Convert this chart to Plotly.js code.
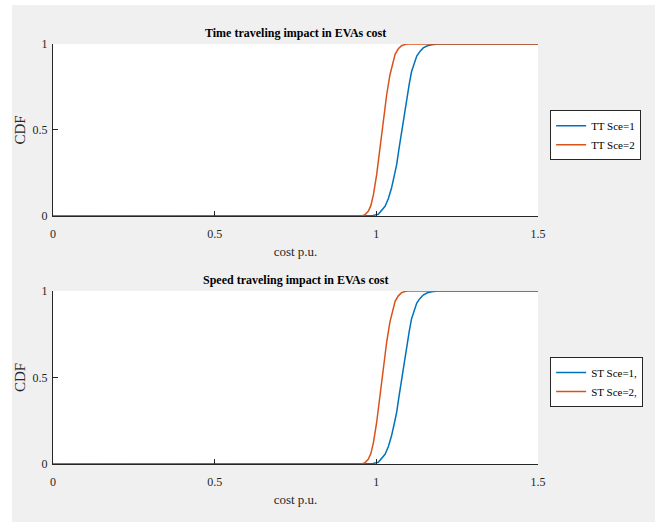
<!DOCTYPE html>
<html>
<head>
<meta charset="utf-8">
<script src="https://cdn.plot.ly/plotly-3.0.1.min.js"></script>
<style>
html,body{margin:0;padding:0;background:#f0f0f0;overflow:hidden;}
#chart{position:absolute;left:12px;top:5px;width:643px;height:517px;}
#padL{position:absolute;left:0;top:0;width:12px;height:100%;background:#ffffff;z-index:5;}
#padT{position:absolute;left:0;top:0;width:100%;height:5px;background:#ffffff;z-index:5;}
</style>
</head>
<body>
<div id="padL"></div><div id="padT"></div>
<div id="chart"></div>
<script>
// Top panel: time traveling impact
var ttSce1X = [0, 0.975, 0.99, 1.006, 1.016, 1.027, 1.037, 1.047, 1.055, 1.063, 1.07, 1.078, 1.086, 1.094, 1.102, 1.109, 1.117, 1.125, 1.135, 1.145, 1.158, 1.171, 1.191, 1.5];
var ttSce1Y = [0, 0, 0.003, 0.01, 0.03, 0.056, 0.1, 0.163, 0.23, 0.30, 0.39, 0.49, 0.59, 0.686, 0.77, 0.84, 0.89, 0.93, 0.957, 0.977, 0.99, 0.996, 1, 1];
var ttSce2X = [0, 0.955, 0.965, 0.975, 0.983, 0.991, 1.001, 1.011, 1.022, 1.032, 1.042, 1.05, 1.058, 1.068, 1.078, 1.09, 1.099, 1.5];
var ttSce2Y = [0, 0, 0.008, 0.027, 0.06, 0.124, 0.24, 0.395, 0.55, 0.705, 0.82, 0.89, 0.94, 0.972, 0.99, 0.998, 1, 1];

// Bottom panel: speed traveling impact
var stSce1X = [0, 0.975, 0.99, 1.006, 1.016, 1.027, 1.037, 1.047, 1.055, 1.063, 1.07, 1.078, 1.086, 1.094, 1.102, 1.109, 1.117, 1.125, 1.135, 1.145, 1.158, 1.171, 1.191, 1.5];
var stSce1Y = [0, 0, 0.003, 0.01, 0.03, 0.056, 0.1, 0.163, 0.23, 0.30, 0.39, 0.49, 0.59, 0.686, 0.77, 0.84, 0.89, 0.93, 0.957, 0.977, 0.99, 0.996, 1, 1];
var stSce2X = [0, 0.955, 0.965, 0.975, 0.983, 0.991, 1.001, 1.011, 1.022, 1.032, 1.042, 1.05, 1.058, 1.068, 1.078, 1.09, 1.099, 1.5];
var stSce2Y = [0, 0, 0.008, 0.027, 0.06, 0.124, 0.24, 0.395, 0.55, 0.705, 0.82, 0.89, 0.94, 0.972, 0.99, 0.998, 1, 1];

var xTicks = [0, 0.5, 1, 1.5];
var xTickLabels = ['0', '0.5', '1', '1.5'];
var yTicks = [0, 0.5, 1];
var yTickLabels = ['0', '0.5', '1'];

var titleTop = 'Time traveling impact in EVAs cost';
var titleBottom = 'Speed traveling impact in EVAs cost';
var xLabel = 'cost p.u.';
var yLabel = 'CDF';

var BLUE = '#0072BD', ORANGE = '#D95319';
var serif = 'Liberation Serif, Times New Roman, serif';

var traces = [
  {x: ttSce1X, y: ttSce1Y, name: 'TT Sce=1', mode: 'lines', line: {color: BLUE, width: 1.5}, xaxis: 'x', yaxis: 'y', legend: 'legend'},
  {x: ttSce2X, y: ttSce2Y, name: 'TT Sce=2', mode: 'lines', line: {color: ORANGE, width: 1.5}, xaxis: 'x', yaxis: 'y', legend: 'legend'},
  {x: stSce1X, y: stSce1Y, name: 'ST Sce=1,', mode: 'lines', line: {color: BLUE, width: 1.5}, xaxis: 'x2', yaxis: 'y2', legend: 'legend2'},
  {x: stSce2X, y: stSce2Y, name: 'ST Sce=2,', mode: 'lines', line: {color: ORANGE, width: 1.5}, xaxis: 'x2', yaxis: 'y2', legend: 'legend2'}
];

function xax(anchor){
  return {
    anchor: anchor, domain: [0, 1], range: [0, 1.5],
    tickvals: xTicks, ticktext: xTickLabels,
    ticks: 'inside', ticklen: 5, tickcolor: '#262626', tickwidth: 1,
    ticklabelstandoff: 7,
    showline: true, linecolor: '#262626', linewidth: 1, mirror: false,
    showgrid: false, zeroline: false,
    tickfont: {family: serif, size: 12, color: '#262626'},
    title: {text: xLabel, font: {family: serif, size: 13, color: '#262626'}, standoff: 6}
  };
}
function yax(anchor, dom){
  return {
    anchor: anchor, domain: dom, range: [0, 1],
    tickvals: yTicks, ticktext: yTickLabels,
    ticks: 'inside', ticklen: 5, tickcolor: '#262626', tickwidth: 1,
    ticklabelstandoff: 2,
    showline: true, linecolor: '#262626', linewidth: 1, mirror: false,
    showgrid: false, zeroline: false,
    tickfont: {family: serif, size: 12, color: '#262626'},
    title: {text: yLabel, font: {family: serif, size: 15, color: '#262626'}, standoff: 6}
  };
}

var legendStyle = {
  bgcolor: '#ffffff', bordercolor: '#262626', borderwidth: 1,
  font: {family: serif, size: 11, color: '#000000'},
  xanchor: 'left', yanchor: 'middle', tracegroupgap: 0, itemwidth: 30
};

var layout = {
  width: 643, height: 517,
  margin: {l: 41, r: 117, t: 39, b: 58, autoexpand: false},
  paper_bgcolor: '#f0f0f0', plot_bgcolor: '#ffffff',
  showlegend: true,
  xaxis: xax('y'),
  yaxis: yax('x', [0.5905, 1]),
  xaxis2: xax('y2'),
  yaxis2: yax('x2', [0, 0.4119]),
  legend: Object.assign({}, legendStyle, {x: 1.025, y: 0.783}),
  legend2: Object.assign({}, legendStyle, {x: 1.025, y: 0.195}),
  annotations: [
    {text: '<b>' + titleTop + '</b>', xref: 'paper', yref: 'paper', x: 0.5, y: 1, yanchor: 'bottom', yshift: 2, showarrow: false, font: {family: serif, size: 12, color: '#000000'}},
    {text: '<b>' + titleBottom + '</b>', xref: 'paper', yref: 'paper', x: 0.5, y: 0.4119, yanchor: 'bottom', yshift: 2, showarrow: false, font: {family: serif, size: 12, color: '#000000'}}
  ]
};

Plotly.newPlot('chart', traces, layout, {displayModeBar: false, staticPlot: true});
</script>
</body>
</html>
